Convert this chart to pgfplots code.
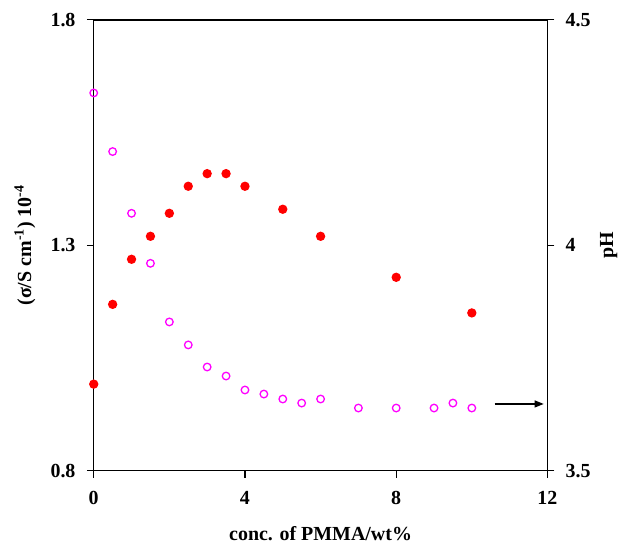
\documentclass[border=0pt]{standalone}
\usepackage{fontspec}
\setmainfont{Liberation Serif}
\usepackage{pgfplots}
\pgfplotsset{compat=1.18}
\usetikzlibrary{arrows.meta}

\definecolor{condred}{RGB}{255,0,0}
\definecolor{phmag}{RGB}{255,0,255}

\begin{document}
\fontsize{20}{24}\selectfont\bfseries
\begin{tikzpicture}
\pgfplotsset{
  common/.style={
    width=455pt, height=452pt, scale only axis,
    xmin=0, xmax=12,
    tick align=outside,
    major tick length=7pt,
    every axis/.append style={line width=1.3pt},
    tick style={line width=1.1pt, black},
    /pgf/number format/assume math mode=true,
    ticklabel style={font=\fontsize{20}{24}\selectfont\bfseries},
    label style={font=\fontsize{20}{24}\selectfont\bfseries},
  }
}
\begin{axis}[common, name=main,
    ymin=0.8, ymax=1.8,
    ytick={0.8,1.3,1.8},
    yticklabel style={/pgf/number format/fixed, /pgf/number format/precision=1, /pgf/number format/fixed zerofill},
    xtick={0,4,8,12},
    xtick pos=bottom, ytick pos=left,
    xticklabel style={yshift=-6pt},
    yticklabel style={xshift=-4pt},
    xlabel={conc. of PMMA/wt\%},
    ylabel={(σ/S cm\textsuperscript{-1}) 10\textsuperscript{-4}},
    xlabel style={at={(axis description cs:0.5,-0.14)}, anchor=center},
    ylabel style={at={(axis description cs:-0.152,0.5)}, anchor=center},
  ]
  % conductivity (left axis)
  \addplot[only marks, mark=*, mark size=4pt, color=condred, mark options={fill=condred, draw=condred}]
    coordinates {(0,0.992) (0.5,1.169) (1,1.269) (1.5,1.320) (2,1.371) (2.5,1.431)
                 (3,1.459) (3.5,1.459) (4,1.431) (5,1.380) (6,1.320) (8,1.229) (10,1.150)};
\end{axis}
\begin{axis}[common,
    ymin=3.5, ymax=4.5,
    ytick={3.5,4,4.5},
    axis y line*=right, axis x line=none,
    yticklabel style={xshift=4pt},
    ylabel={pH},
    ylabel style={at={(axis description cs:1.135,0.5)}, anchor=center, rotate=0},
  ]
  % pH (right axis)
  \addplot[only marks, mark=o, mark size=3.8pt, color=phmag, mark options={line width=1.3pt}]
    coordinates {(0,4.338) (0.5,4.208) (1,4.071) (1.5,3.960) (2,3.830) (2.5,3.779)
                 (3,3.730) (3.5,3.710) (4,3.679) (4.5,3.670) (5,3.659) (5.5,3.650)
                 (6,3.659) (7,3.639) (8,3.639) (9,3.639) (9.5,3.650) (10,3.639)};
  \draw[-{Triangle[length=9pt,width=7pt]}, line width=1.1pt] (axis cs:10.6,3.648) -- (axis cs:11.9,3.648);
\end{axis}
\path (main.south west) ++(-94pt,-75pt);
\path (main.north east) ++(75pt,20pt);
\end{tikzpicture}
\end{document}
